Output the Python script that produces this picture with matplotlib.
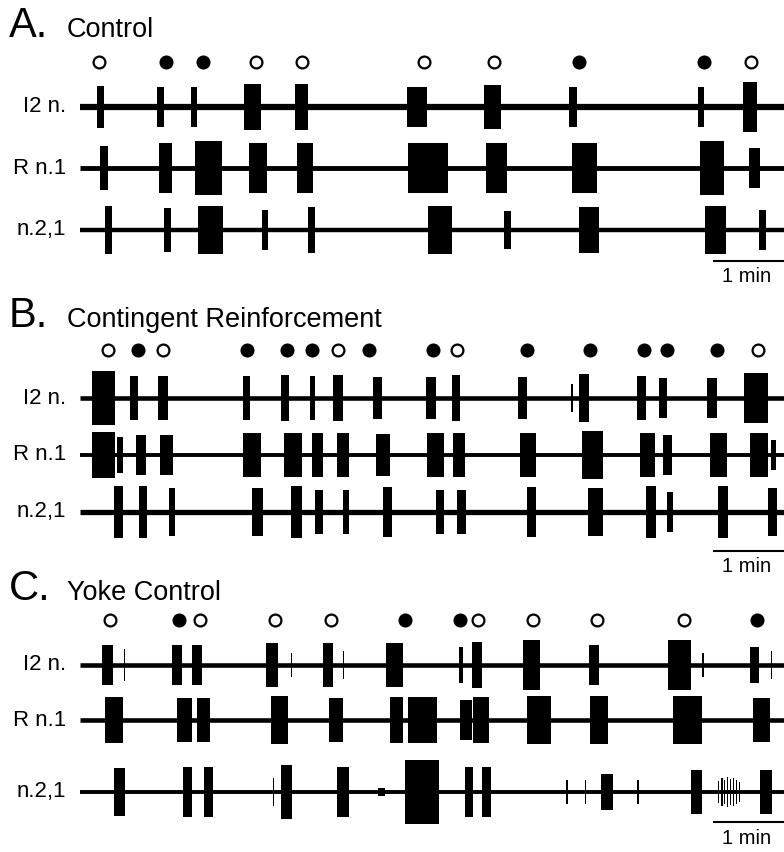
import matplotlib
matplotlib.use("Agg")
import matplotlib.pyplot as plt

plt.rcParams['font.family'] = ['Liberation Sans', 'DejaVu Sans']

W, H = 784, 852
S = 60 / 71.0          # seconds per pixel (1 min bar = 71 px)
T_END = 595

# panel titles
panel_letters = ["A.", "B.", "C."]
panel_names = ["Control", "Contingent Reinforcement", "Yoke Control"]
trace_names = ["I2 n.", "R n.1", "n.2,1"]

# reinforcement markers: time (s), filled?
A_marks = [16, 73, 104, 149, 188, 291, 350, 422, 527, 567]
A_fill = [0, 1, 1, 0, 0, 0, 0, 1, 1, 0]
B_marks = [24, 49, 70, 141, 175, 196, 218, 244, 298, 319, 378, 431, 477, 496, 538, 573]
B_fill = [0, 1, 0, 1, 1, 1, 0, 1, 1, 0, 1, 1, 1, 1, 1, 0]
C_marks = [25, 84, 101, 165, 212, 275, 321, 336, 383, 437, 510, 572]
C_fill = [0, 1, 0, 0, 0, 1, 1, 0, 0, 0, 0, 1]

# bursts: (start s, end s, half amplitude)
A_I2 = [(14, 20, 21), (65, 71, 20), (94, 99, 20), (139, 153, 23), (182, 193, 23),
        (276, 293, 20), (341, 356, 22), (413, 420, 20), (522, 527, 20), (560, 572, 25)]
A_R1 = [(17, 24, 22), (67, 78, 25), (97, 120, 27), (143, 158, 25), (183, 197, 25),
        (277, 311, 25), (343, 361, 25), (416, 437, 25), (524, 544, 27), (565, 575, 20)]
A_N21 = [(21, 27, 24), (71, 77, 22), (100, 121, 24), (154, 159, 20), (193, 199, 23),
         (294, 314, 24), (358, 364, 19), (422, 439, 23), (528, 546, 24), (574, 580, 20)]

B_I2 = [(10, 30, 27), (42, 49, 22), (66, 74, 22), (138, 144, 22), (170, 177, 23),
        (194, 199, 22), (214, 222, 23), (248, 255, 21), (292, 301, 21), (314, 321, 23),
        (370, 378, 21), (415, 417, 14), (422, 430, 24), (471, 478, 22), (489, 496, 20),
        (530, 538, 20), (561, 581, 25)]
B_R1 = [(10, 30, 23), (31, 36, 18), (47, 56, 20), (68, 79, 20), (138, 153, 22),
        (172, 188, 22), (196, 205, 22), (217, 227, 22), (250, 262, 21), (293, 308, 22),
        (315, 325, 22), (372, 385, 22), (424, 442, 24), (473, 486, 22), (493, 500, 20),
        (532, 547, 22), (566, 581, 22), (584, 588, 15)]
B_N21 = [(29, 36, 26), (50, 57, 26), (75, 80, 24), (145, 155, 24), (178, 188, 26),
         (199, 205, 22), (222, 227, 22), (256, 264, 25), (301, 308, 22), (319, 326, 22),
         (378, 385, 25), (429, 442, 24), (478, 487, 26), (496, 501, 20), (539, 548, 26),
         (581, 589, 24)]

C_I2 = [(19, 28, 20), (37, 38, 16), (78, 86, 20), (95, 103, 20), (157, 167, 22),
        (178, 179, 12), (205, 214, 22), (222, 223, 14), (259, 273, 22), (320, 324, 18),
        (331, 340, 23), (374, 389, 25), (430, 439, 20), (497, 516, 25), (526, 527, 12),
        (566, 574, 18), (584, 585, 14)]
C_R1 = [(21, 36, 23), (82, 95, 22), (99, 110, 22), (161, 176, 24), (210, 222, 22),
        (262, 273, 23), (277, 302, 23), (321, 331, 20), (332, 346, 23), (378, 398, 24),
        (431, 446, 24), (501, 526, 24), (569, 583, 22)]
C_N21 = [(29, 38, 24), (87, 95, 25), (105, 112, 25), (163, 164, 14), (170, 179, 27),
         (217, 227, 25), (252, 258, 4), (275, 303, 32), (325, 332, 25), (340, 347, 25),
         (411, 412, 12), (427, 428, 12), (440, 450, 18), (471, 472, 12), (516, 526, 22),
         (539, 540, 11), (542, 543, 14), (544, 545, 12), (547, 548, 15), (549, 550, 13),
         (552, 553, 14), (554, 555, 12), (557, 558, 10), (575, 585, 22)]

panels = [
    dict(top=0, marks=A_marks, fill=A_fill, traces=[A_I2, A_R1, A_N21],
         mark_y=62, trace_y=[107, 168, 230], bar_y=261, lw=[4.5, 3.5, 3.2]),
    dict(top=290, marks=B_marks, fill=B_fill, traces=[B_I2, B_R1, B_N21],
         mark_y=350, trace_y=[398, 455, 512], bar_y=551, lw=[3.3, 2.8, 3.8]),
    dict(top=563, marks=C_marks, fill=C_fill, traces=[C_I2, C_R1, C_N21],
         mark_y=620, trace_y=[665, 720, 792], bar_y=822, lw=[3.3, 3.3, 2.8]),
]

fig = plt.figure(figsize=(W / 100, H / 100), dpi=100)
ax = fig.add_axes([0, 0, 1, 1])
ax.set_xlim(-80 * S, (W - 80) * S)
ax.set_ylim(H, 0)
ax.axis('off')


def fx(px):
    return px / W


def fy(py):
    return 1 - py / H


for i, p in enumerate(panels):
    fig.text(fx(9), fy(p['top'] + 26), panel_letters[i], fontsize=30,
             va='center', ha='left')
    fig.text(fx(67), fy(p['top'] + 30), panel_names[i], fontsize=19.5,
             va='center', ha='left')

    for t, f in zip(p['marks'], p['fill']):
        ax.plot(t, p['mark_y'], 'o', ms=8.5, mew=1.6, mec='black',
                mfc='black' if f else 'white')

    for name, bursts, y0, lw in zip(trace_names, p['traces'], p['trace_y'], p['lw']):
        ax.plot([0, T_END], [y0, y0], color='black', lw=lw, solid_capstyle='butt')
        for s, e, a in bursts:
            ax.bar(s, a * 2, width=max(e - s, 1), bottom=y0 - a, align='edge',
                   color='black', linewidth=0)
        fig.text(fx(66), fy(y0), name, fontsize=16, ha='right', va='center')

    # 1 min scale bar
    ax.plot([535, 595], [p['bar_y'], p['bar_y']], color='black', lw=1.5,
            solid_capstyle='butt')
    fig.text(fx(747), fy(p['bar_y'] + 16), "1 min", fontsize=14.5,
             ha='center', va='center')

fig.savefig("out.png", dpi=100, facecolor='white')
